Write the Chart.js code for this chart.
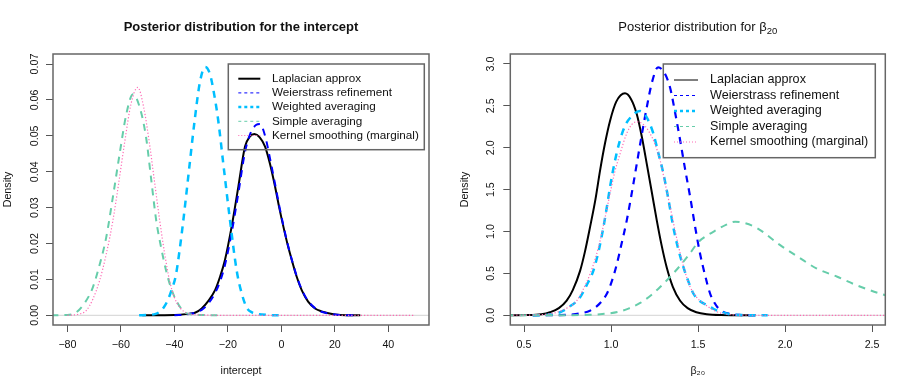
<!DOCTYPE html>
<html>
<head>
<meta charset="utf-8">
<script src="https://cdn.jsdelivr.net/npm/chart.js@4.4.0/dist/chart.umd.min.js"></script>
<style>
  html, body { margin: 0; padding: 0; background: #fff; }
  #wrap { width: 914px; height: 392px; display: flex; }
  canvas { display: block; }
</style>
</head>
<body>
<div id="wrap">
  <canvas id="left" width="457" height="392"></canvas>
  <canvas id="right" width="457" height="392"></canvas>
</div>
<script>
const seriesLabels = ['Laplacian approx', 'Weierstrass refinement', 'Weighted averaging', 'Simple averaging', 'Kernel smoothing (marginal)'];

// ---- intercept panel ----
const lapX_int = [-52, -40, -35, -32.3, -29.8, -27.3, -24.8, -22.9, -21.1, -18.6, -16.1, -13.6, -11.8, -10.1, -8.1, -6.1, -4.2, -2.35, -0.8, 0.75, 2.3, 3.9, 5.7, 7.6, 10, 12.6, 15, 17.6, 22, 29.5];
const lapY_int = [0, 0.0001, 0.0004, 0.0007, 0.0019, 0.0040, 0.0070, 0.0108, 0.0154, 0.0247, 0.0358, 0.0470, 0.0498, 0.0505, 0.0496, 0.0470, 0.0420, 0.0358, 0.0300, 0.0247, 0.0198, 0.0154, 0.0108, 0.0070, 0.0038, 0.0019, 0.0011, 0.0006, 0.0001, 0];

const weiX_int = [-40, -35, -29.8, -27.3, -24.8, -22.9, -21.1, -18.6, -16.1, -13.6, -11.5, -9.5, -8.0, -6.1, -4.2, -2.35, -0.8, 0.75, 2.3, 3.9, 5.7, 7.6, 10, 12.6, 15, 17.6, 22, 29];
const weiY_int = [0, 0.0003, 0.0015, 0.0033, 0.0062, 0.0095, 0.0140, 0.0230, 0.0340, 0.0455, 0.0508, 0.0530, 0.0533, 0.0500, 0.0435, 0.0365, 0.0305, 0.0250, 0.0200, 0.0155, 0.0110, 0.0072, 0.0040, 0.0020, 0.0010, 0.0005, 0.0001, 0];

const wgtX_int = [-53.2, -50, -47, -45.5, -44, -42.5, -41, -39.5, -38, -36.5, -34.3, -32.4, -30.5, -28.5, -26.7, -25, -23.6, -21.7, -19.2, -16.7, -14.8, -13, -11, -9.2, -5, -1];
const wgtY_int = [0, 0.0001, 0.0004, 0.0010, 0.0022, 0.0042, 0.0072, 0.0110, 0.0185, 0.0275, 0.0421, 0.0545, 0.0648, 0.0692, 0.0672, 0.0610, 0.0542, 0.0421, 0.0264, 0.0124, 0.0060, 0.0022, 0.0008, 0.0004, 0.0001, 0];

const simX_int = [-86, -80, -76.8, -73.5, -70.5, -68, -65.5, -63, -60.5, -58, -55.5, -53, -50.6, -48.7, -46.8, -45, -43.1, -41.2, -39.3, -35.6, -30, -24];
const simY_int = [0, 0.0001, 0.0008, 0.0035, 0.0078, 0.0140, 0.0217, 0.0330, 0.0449, 0.0560, 0.0616, 0.0580, 0.0496, 0.0380, 0.0264, 0.0190, 0.0124, 0.0075, 0.0041, 0.0006, 0.0001, 0];

const kerX_int = [-80, -76, -73, -70.5, -68, -65.5, -63, -60.8, -58.7, -56.2, -53.7, -51.5, -49.3, -47.4, -45.5, -43.6, -41.8, -40, -38, -35, -30, -20, 50];
const kerY_int = [0, 0.0003, 0.0013, 0.0045, 0.0096, 0.0170, 0.0264, 0.0370, 0.0477, 0.0590, 0.0635, 0.0580, 0.0477, 0.0370, 0.0264, 0.0170, 0.0096, 0.0050, 0.0022, 0.0005, 0.0001, 0, 0];

const xTicks_int = [-80, -60, -40, -20, 0, 20, 40];
const yTicks_int = [0, 0.01, 0.02, 0.03, 0.04, 0.05, 0.06, 0.07];
const yTickLabels_int = ['0.00', '0.01', '0.02', '0.03', '0.04', '0.05', '0.06', '0.07'];

// ---- beta_20 panel ----
const lapX_b = [0.40, 0.516, 0.60, 0.649, 0.70, 0.745, 0.78, 0.822, 0.85, 0.879, 0.91, 0.937, 0.965, 0.994, 1.03, 1.08, 1.115, 1.148, 1.178, 1.205, 1.235, 1.263, 1.29, 1.32, 1.355, 1.397, 1.44, 1.49, 1.55, 1.63, 1.83];
const lapY_b = [0, 0.002, 0.012, 0.036, 0.085, 0.174, 0.30, 0.53, 0.76, 1.05, 1.38, 1.73, 2.05, 2.32, 2.55, 2.65, 2.58, 2.40, 2.12, 1.81, 1.46, 1.13, 0.84, 0.57, 0.34, 0.174, 0.085, 0.036, 0.012, 0.003, 0];

const weiX_b = [0.55, 0.70, 0.764, 0.82, 0.879, 0.93, 0.975, 1.005, 1.033, 1.06, 1.09, 1.12, 1.148, 1.177, 1.205, 1.235, 1.27, 1.305, 1.339, 1.368, 1.397, 1.425, 1.454, 1.482, 1.511, 1.54, 1.569, 1.597, 1.626, 1.684, 1.75, 1.85];
const weiY_b = [0, 0.002, 0.007, 0.022, 0.055, 0.13, 0.254, 0.41, 0.61, 0.85, 1.13, 1.47, 1.81, 2.16, 2.48, 2.78, 2.96, 2.90, 2.72, 2.42, 2.09, 1.75, 1.42, 1.07, 0.74, 0.48, 0.26, 0.14, 0.063, 0.015, 0.003, 0];

const wgtX_b = [0.55, 0.65, 0.707, 0.76, 0.822, 0.86, 0.898, 0.93, 0.956, 0.975, 0.994, 1.02, 1.05, 1.08, 1.12, 1.165, 1.20, 1.243, 1.27, 1.30, 1.33, 1.357, 1.385, 1.415, 1.445, 1.473, 1.51, 1.55, 1.59, 1.626, 1.70, 1.90];
const wgtY_b = [0, 0.008, 0.036, 0.10, 0.215, 0.36, 0.53, 0.78, 1.05, 1.28, 1.53, 1.82, 2.08, 2.26, 2.38, 2.44, 2.38, 2.17, 1.95, 1.70, 1.38, 1.06, 0.80, 0.58, 0.40, 0.26, 0.17, 0.123, 0.075, 0.043, 0.008, 0];

const simX_b = [0.40, 0.70, 0.879, 0.95, 1.04, 1.10, 1.17, 1.23, 1.282, 1.34, 1.40, 1.45, 1.50, 1.55, 1.607, 1.66, 1.713, 1.77, 1.84, 1.97, 2.08, 2.18, 2.30, 2.41, 2.56, 2.62];
const simY_b = [0, 0.001, 0.006, 0.015, 0.040, 0.08, 0.15, 0.24, 0.337, 0.46, 0.60, 0.73, 0.87, 0.95, 1.02, 1.08, 1.117, 1.10, 1.04, 0.84, 0.69, 0.56, 0.46, 0.36, 0.25, 0.22];

const kerX_b = [0.40, 0.60, 0.688, 0.75, 0.803, 0.84, 0.879, 0.91, 0.937, 0.965, 0.994, 1.02, 1.052, 1.09, 1.12, 1.148, 1.19, 1.224, 1.255, 1.282, 1.31, 1.339, 1.368, 1.397, 1.425, 1.454, 1.49, 1.53, 1.57, 1.607, 1.66, 1.75, 1.9, 2.62];
const kerY_b = [0, 0.008, 0.036, 0.09, 0.174, 0.31, 0.49, 0.68, 0.89, 1.16, 1.45, 1.70, 1.93, 2.17, 2.28, 2.31, 2.27, 2.17, 2.03, 1.85, 1.58, 1.30, 1.01, 0.74, 0.52, 0.34, 0.22, 0.143, 0.085, 0.043, 0.015, 0.002, 0, 0];

const xTicks_b = [0.5, 1.0, 1.5, 2.0, 2.5];
const yTicks_b = [0, 0.5, 1.0, 1.5, 2.0, 2.5, 3.0];
const yTickLabels_b = ['0.0', '0.5', '1.0', '1.5', '2.0', '2.5', '3.0'];

const FONT = '"Liberation Sans", Arial, Helvetica, sans-serif';
const colors = ['#000000', '#0000ff', '#00bfff', '#66cdaa', '#ff69b4'];

// draws the R style frame: zero line, box, rotated y labels, legend, main title
const framePlugin = {
  id: 'rframe',
  beforeDatasetsDraw(chart) {
    const {ctx, chartArea, scales} = chart;
    const y0 = scales.y.getPixelForValue(0);
    ctx.save();
    ctx.strokeStyle = '#d3d3d3';
    ctx.lineWidth = 1;
    ctx.beginPath();
    ctx.moveTo(chartArea.left, y0);
    ctx.lineTo(chartArea.right, y0);
    ctx.stroke();
    ctx.restore();
  },
  afterDraw(chart) {
    const {ctx, chartArea, scales} = chart;
    const o = chart.options.plugins.rframe;
    ctx.save();
    ctx.strokeStyle = '#666';
    ctx.lineWidth = 1.5;
    ctx.strokeRect(chartArea.left, chartArea.top, chartArea.right - chartArea.left, chartArea.bottom - chartArea.top);

    // y tick labels, rotated like R's las=0
    ctx.fillStyle = '#111';
    ctx.font = '10.7px ' + FONT;
    ctx.textAlign = 'center';
    ctx.textBaseline = 'middle';
    o.yTicks.forEach((v, i) => {
      ctx.save();
      ctx.translate(o.yLabelX, scales.y.getPixelForValue(v));
      ctx.rotate(-Math.PI / 2);
      ctx.fillText(o.yLabels[i], 0, 0);
      ctx.restore();
    });

    // main title, with an optional subscript part
    const cx = (chartArea.left + chartArea.right) / 2;
    ctx.font = o.titleFont;
    const mainW = ctx.measureText(o.title).width;
    let subW = 0;
    if (o.titleSub) {
      ctx.font = '9.5px ' + FONT;
      subW = ctx.measureText(o.titleSub).width;
    }
    const startX = cx - (mainW + subW) / 2;
    ctx.textAlign = 'left';
    ctx.font = o.titleFont;
    ctx.fillText(o.title, startX, 27);
    if (o.titleSub) {
      ctx.font = '9.5px ' + FONT;
      ctx.fillText(o.titleSub, startX + mainW, 31);
    }

    // legend
    const L = o.legend;
    const bx = chartArea.right - L.right - L.w;
    const by = chartArea.top + L.top;
    ctx.strokeStyle = '#666';
    ctx.lineWidth = 1.5;
    ctx.strokeRect(bx, by, L.w, L.h);
    ctx.font = L.font + 'px ' + FONT;
    ctx.textAlign = 'left';
    seriesLabels.forEach((label, i) => {
      const ly = by + L.row0 + i * L.gap;
      ctx.save();
      ctx.strokeStyle = colors[i];
      ctx.lineWidth = L.widths[i];
      ctx.setLineDash(L.dashes[i]);
      ctx.beginPath();
      ctx.moveTo(bx + L.line0, ly);
      ctx.lineTo(bx + L.line1, ly);
      ctx.stroke();
      ctx.restore();
      ctx.fillStyle = '#111';
      ctx.fillText(label, bx + L.text, ly);
    });
    ctx.restore();
  }
};

function makeChart(id, cfg) {
  return new Chart(document.getElementById(id), {
    type: 'line',
    data: {
      datasets: cfg.xs.map((xs, i) => ({
        label: seriesLabels[i],
        data: xs.map((v, k) => ({x: v, y: cfg.ys[i][k]})),
        borderColor: colors[i],
        borderWidth: cfg.widths[i],
        borderDash: cfg.dashes[i],
        pointRadius: 0,
        fill: false,
        cubicInterpolationMode: 'monotone',
        order: 10 - i
      }))
    },
    options: {
      responsive: false,
      animation: false,
      events: [],
      layout: {padding: {top: 54, right: cfg.padRight, left: 0, bottom: 0}},
      plugins: {
        legend: {display: false},
        tooltip: {enabled: false},
        rframe: {
          yTicks: cfg.yTicks, yLabels: cfg.yLabels, yLabelX: cfg.yLabelX,
          title: cfg.title, titleSub: cfg.titleSub, titleFont: cfg.titleFont, legend: cfg.legend
        }
      },
      scales: {
        x: {
          type: 'linear',
          min: cfg.xMin, max: cfg.xMax,
          afterFit: s => { s.height = 67; },
          afterBuildTicks: s => { s.ticks = cfg.xTicks.map(v => ({value: v})); },
          grid: {drawOnChartArea: false, drawTicks: true, tickLength: 7, color: '#555', lineWidth: 1},
          border: {display: false},
          ticks: {
            color: '#111', font: {family: FONT, size: 10.7}, padding: 6.6,
            maxRotation: 0, autoSkip: false, callback: cfg.xFmt
          },
          title: {display: true, text: cfg.xTitle, color: '#111', font: {family: FONT, size: 10.7}, padding: {top: 0, bottom: 14.6}}
        },
        y: {
          type: 'linear',
          min: cfg.yMin, max: cfg.yMax,
          afterFit: s => { s.width = cfg.yWidth; },
          afterBuildTicks: s => { s.ticks = cfg.yTicks.map(v => ({value: v})); },
          grid: {drawOnChartArea: false, drawTicks: true, tickLength: 7, color: '#555', lineWidth: 1},
          border: {display: false},
          ticks: {display: false},
          title: {display: true, text: 'Density', color: '#111', font: {family: FONT, size: 10.7}, padding: {top: 1.9, bottom: 0}}
        }
      }
    },
    plugins: [framePlugin]
  });
}

makeChart('left', {
  xs: [lapX_int, weiX_int, wgtX_int, simX_int, kerX_int],
  ys: [lapY_int, weiY_int, wgtY_int, simY_int, kerY_int],
  widths: [2, 2, 2.5, 2, 1.2],
  dashes: [[], [7, 6], [7, 6], [7, 6], [1.2, 2]],
  xMin: -85.4, xMax: 55.2, yMin: -0.0027, yMax: 0.0728,
  xTicks: xTicks_int, yTicks: yTicks_int, yLabels: yTickLabels_int, yLabelX: 35,
  xFmt: v => (v < 0 ? '\u2212' + Math.abs(v) : String(v)),
  xTitle: 'intercept',
  title: 'Posterior distribution for the intercept',
  titleFont: 'bold 13px ' + FONT,
  yWidth: 53, padRight: 28,
  legend: {
    right: 4.7, w: 196, top: 10, h: 85.7, font: 11.7, row0: 14.7, gap: 14.2,
    line0: 10, line1: 32, text: 43.7,
    widths: [2, 1, 2.5, 1, 1], dashes: [[], [3, 3], [3, 3], [3, 3], [1, 2]]
  }
});

makeChart('right', {
  xs: [lapX_b, weiX_b, wgtX_b, simX_b, kerX_b],
  ys: [lapY_b, weiY_b, wgtY_b, simY_b, kerY_b],
  widths: [2, 2.2, 2.5, 2, 1.2],
  dashes: [[], [7, 6], [7, 6], [7, 6], [1.2, 2]],
  xMin: 0.421, xMax: 2.576, yMin: -0.116, yMax: 3.119,
  xTicks: xTicks_b, yTicks: yTicks_b, yLabels: yTickLabels_b, yLabelX: 33.7,
  xFmt: v => v.toFixed(1),
  xTitle: '\u03b2\u2082\u2080',
  title: 'Posterior distribution for \u03b2',
  titleSub: '20',
  titleFont: '13px ' + FONT,
  yWidth: 53.3, padRight: 28.7,
  legend: {
    right: 10, w: 212, top: 10, h: 93.7, font: 12.6, row0: 16, gap: 15.5,
    line0: 10.7, line1: 34.7, text: 46.7,
    widths: [1, 1, 2.5, 1, 1], dashes: [[], [3, 3], [3, 3], [3, 3], [1, 2]]
  }
});
</script>
</body>
</html>
